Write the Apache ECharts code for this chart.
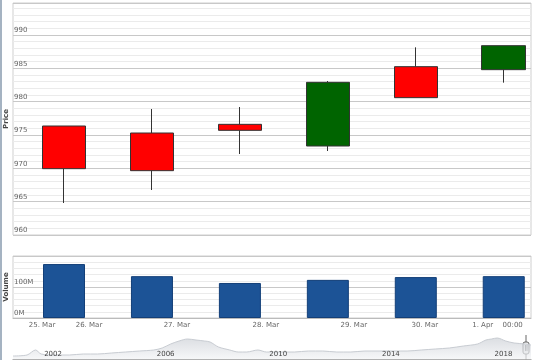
<!DOCTYPE html>
<html>
<head>
<meta charset="utf-8">
<script src="https://cdn.jsdelivr.net/npm/echarts@6/dist/echarts.min.js"></script>
<style>html,body{margin:0;padding:0;background:#fff}#c{width:540px;height:360px}</style>
</head>
<body>
<div id="c"></div>
<script>
// ---- data ----
const opens  = [976.35, 975.3, 976.6, 973.35, 985.25, 984.8];
const closes = [969.95, 969.65, 975.7, 982.9, 980.6, 988.4];
const lows   = [964.8, 966.75, 972.15, 972.6, 980.6, 982.85];
const highs  = [976.35, 978.9, 979.2, 983.1, 988.15, 988.4];
const volumes = [174e6, 135e6, 113e6, 123e6, 132e6, 135e6];
// x-axis tick labels (ordinal positions) and texts
const dateTickPos = [-0.25, 0.284, 1.284, 2.295, 3.295, 4.102, 4.761, 5.102];
const dateTickText = ['25. Mar', '26. Mar', '27. Mar', '28. Mar', '29. Mar', '30. Mar', '1. Apr', '00:00'];
// navigator history (year, relative level)
const navYears = [2001.0, 2001.5, 2001.8, 2002.0, 2002.5, 2003.0, 2003.5, 2004.0, 2004.5, 2005.0, 2005.5, 2006.0, 2006.3, 2006.6, 2006.9, 2007.2, 2007.5, 2007.8, 2008.0, 2008.3, 2008.7, 2009.0, 2009.3, 2009.7, 2010.0, 2010.5, 2011.0, 2011.5, 2012.0, 2012.5, 2013.0, 2013.5, 2014.0, 2014.5, 2015.0, 2015.5, 2016.0, 2016.5, 2017.0, 2017.5, 2017.8, 2018.0, 2018.2, 2018.5, 2018.8, 2019.2, 2019.4];
const navValues = [4, 5, 10, 6, 5, 5, 6, 6, 7, 8, 9, 10, 12, 16, 19, 21, 20, 19, 18, 13, 10, 8, 8, 10, 8, 8, 8, 9, 9, 8, 8, 9, 9, 9, 9, 10, 11, 12, 14, 16, 20, 21, 22, 19, 17, 16, 15];
const navYearTicks = [2002, 2006, 2010, 2014, 2018];

const candleData = opens.map((o, i) => [i, o, closes[i], lows[i], highs[i]]);
const volData = volumes.map((v, i) => [i, v]);
const navData = navYears.map((y, i) => [y, navValues[i]]);

const FONT = 'DejaVu Sans';
const lbl = {fontFamily: FONT, fontSize: 7, color: '#666'};

const chart = echarts.init(document.getElementById('c'), null, {renderer: 'canvas'});
chart.setOption({
  animation: false,
  backgroundColor: '#fff',
  grid: [
    {left: 13, right: 9, top: 3, height: 232, show: true, borderColor: '#cfcfcf', borderWidth: 1, backgroundColor: '#fff', outerBoundsMode: 'none', containLabel: false},
    {left: 13, right: 9, top: 256, height: 62, show: true, borderColor: '#cfcfcf', borderWidth: 1, backgroundColor: '#fff', outerBoundsMode: 'none', containLabel: false},
    {left: 13, right: 9, top: 336, bottom: 0, show: false, outerBoundsMode: 'none', containLabel: false}
  ],
  xAxis: [
    {type: 'value', gridIndex: 0, min: -0.58, max: 5.31, axisLine: {show: false}, axisTick: {show: false}, axisLabel: {show: false}, splitLine: {show: false}},
    {type: 'value', gridIndex: 1, min: -0.58, max: 5.31,
      axisLine: {show: true, lineStyle: {color: '#bbb'}}, axisTick: {show: false}, splitLine: {show: false},
      axisLabel: Object.assign({customValues: dateTickPos, margin: 4, formatter: function (v) {
        let best = 0; for (let i = 0; i < dateTickPos.length; i++) { if (Math.abs(dateTickPos[i] - v) < Math.abs(dateTickPos[best] - v)) best = i; }
        return dateTickText[best];
      }}, lbl)},
    {type: 'value', gridIndex: 2, min: 2001, max: 2019.4, z: 10, axisLine: {show: false}, axisTick: {show: false}, splitLine: {show: false},
      axisLabel: Object.assign({customValues: navYearTicks, inside: true, margin: 2, align: 'left', padding: [0, 0, 0, 3], formatter: v => String(Math.round(v))}, lbl, {color: '#444'})},
    {type: 'value', gridIndex: 2, position: 'top', min: 2001, max: 2019.4, z: 10, axisLine: {show: true, lineStyle: {color: '#999', width: 1.5}}, axisTick: {show: false}, axisLabel: {show: false}, splitLine: {show: false}}
  ],
  yAxis: [
    {type: 'value', gridIndex: 0, min: 960, max: 994.8, interval: 5, name: 'Price', nameLocation: 'middle', nameGap: 3, nameMoveOverlap: false,
      nameTextStyle: {fontFamily: FONT, fontSize: 7, fontWeight: 'bold', color: '#444'},
      axisLine: {show: false}, axisTick: {show: false},
      axisLabel: Object.assign({inside: true, showMaxLabel: false, verticalAlign: 'bottom', align: 'left', margin: 1, padding: [0, 0, 1, 0]}, lbl),
      splitLine: {show: true, lineStyle: {color: '#c8c8c8', width: 1}},
      minorTick: {show: false, splitNumber: 5},
      minorSplitLine: {show: true, lineStyle: {color: '#ebebeb', width: 1}}},
    {type: 'value', gridIndex: 1, min: 0, max: 200e6, interval: 100e6, name: 'Volume', nameLocation: 'middle', nameGap: 3, nameMoveOverlap: false,
      nameTextStyle: {fontFamily: FONT, fontSize: 7, fontWeight: 'bold', color: '#444'},
      axisLine: {show: false}, axisTick: {show: false},
      axisLabel: Object.assign({inside: true, showMaxLabel: false, verticalAlign: 'bottom', align: 'left', margin: 1, padding: [0, 0, 1, 0], formatter: v => (v / 1e6) + 'M'}, lbl),
      splitLine: {show: true, lineStyle: {color: '#c8c8c8', width: 1}},
      minorTick: {show: false, splitNumber: 5},
      minorSplitLine: {show: true, lineStyle: {color: '#ebebeb', width: 1}}},
    {type: 'value', gridIndex: 2, min: 0, max: 24, show: false},
    {type: 'value', gridIndex: 2, min: 0, max: 24, show: false}
  ],
  series: [
    {type: 'candlestick', xAxisIndex: 0, yAxisIndex: 0, data: candleData, encode: {x: 0, y: [1, 2, 3, 4]},
      barWidth: 44,
      itemStyle: {color: '#006400', color0: '#ff0000', borderColor: '#333', borderColor0: '#333', borderWidth: 1}},
    {type: 'bar', xAxisIndex: 1, yAxisIndex: 1, data: volData, barWidth: 42,
      itemStyle: {color: '#1c5396', borderColor: '#133f78', borderWidth: 1}},
    {type: 'line', xAxisIndex: 2, yAxisIndex: 2, data: navData, showSymbol: false, smooth: 0.3, z: 1,
      lineStyle: {color: '#c8ccd2', width: 1},
      areaStyle: {color: new echarts.graphic.LinearGradient(0, 0, 0, 1, [{offset: 0, color: '#ccd0d6'}, {offset: 1, color: '#f4f5f7'}])}}
  ],
  graphic: [
    {type: 'rect', left: 0, top: 0, z: -1, shape: {width: 2, height: 360}, style: {fill: '#a5b3c2'}},
    {type: 'line', shape: {x1: 526, y1: 335, x2: 526, y2: 360}, style: {stroke: '#666', lineWidth: 1}},
    {type: 'rect', shape: {x: 523, y: 342, width: 6, height: 12, r: 2}, style: {fill: '#f2f2f2', stroke: '#666', lineWidth: 1}},
    {type: 'line', shape: {x1: 525.5, y1: 345, x2: 525.5, y2: 351}, style: {stroke: '#666', lineWidth: 0.8}},
    {type: 'line', shape: {x1: 527, y1: 345, x2: 527, y2: 351}, style: {stroke: '#666', lineWidth: 0.8}}
  ]
});
</script>
</body>
</html>
